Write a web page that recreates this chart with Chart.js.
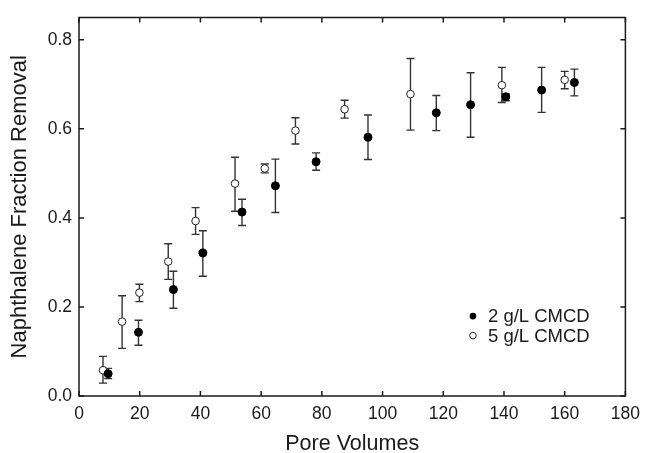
<!DOCTYPE html>
<html>
<head>
<meta charset="utf-8">
<script src="https://cdn.jsdelivr.net/npm/chart.js@4.4.1/dist/chart.umd.min.js"></script>
<style>
    body { margin: 0; background: #fff; }
    canvas { display: block; }
</style>
</head>
<body>
<canvas id="myChart" width="648" height="453"></canvas>
<script>
"use strict";

// 2 g/L CMCD
let pv2 = [9.6, 19.6, 31.1, 40.8, 53.7, 64.7, 78.1, 95.2, 117.7, 129.0, 140.6, 152.4, 163.2];
let fr2 = [0.050, 0.143, 0.239, 0.321, 0.413, 0.472, 0.526, 0.581, 0.636, 0.654, 0.672, 0.687, 0.704];
let err2Lo = [0.039, 0.114, 0.197, 0.269, 0.383, 0.412, 0.507, 0.531, 0.596, 0.581, 0.663, 0.637, 0.674];
let err2Hi = [0.062, 0.170, 0.280, 0.371, 0.442, 0.532, 0.546, 0.631, 0.675, 0.726, 0.679, 0.738, 0.734];

// 5 g/L CMCD
let pv5 = [7.9, 14.2, 19.9, 29.4, 38.4, 51.4, 61.2, 71.3, 87.5, 109.2, 139.3, 160.0];
let fr5 = [0.058, 0.167, 0.232, 0.302, 0.393, 0.477, 0.511, 0.596, 0.644, 0.678, 0.698, 0.710];
let err5Lo = [0.029, 0.107, 0.212, 0.262, 0.363, 0.415, 0.501, 0.566, 0.624, 0.597, 0.659, 0.690];
let err5Hi = [0.089, 0.225, 0.251, 0.342, 0.423, 0.536, 0.521, 0.625, 0.664, 0.758, 0.738, 0.729];

let seriesLabels = ["2 g/L CMCD", "5 g/L CMCD"];
let xTicks = [0, 20, 40, 60, 80, 100, 120, 140, 160, 180];
let yTicks = [0.0, 0.2, 0.4, 0.6, 0.8];

let font = "'Liberation Sans', Arial, Helvetica, sans-serif";
let ink = "#1a1a1a";

function toPoints(xs, ys) {
    let pts = [];
    for (let i = 0; i < xs.length; i++) {
        pts.push({x: xs[i], y: ys[i]});
    }
    return pts;
}

let errorBars = [[err2Lo, err2Hi], [err5Lo, err5Hi]];

// error bars, frame, inward ticks, legend
let extras = {
    id: "extras",
    beforeDatasetsDraw: function (chart) {
        let ctx = chart.ctx;
        let xs = chart.scales.x, ys = chart.scales.y;
        ctx.save();
        ctx.strokeStyle = "#333";
        ctx.lineWidth = 1.4;
        chart.data.datasets.forEach(function (ds, d) {
            let lo = errorBars[d][0], hi = errorBars[d][1];
            ds.data.forEach(function (p, i) {
                let px = xs.getPixelForValue(p.x);
                let y1 = ys.getPixelForValue(lo[i]);
                let y2 = ys.getPixelForValue(hi[i]);
                ctx.beginPath();
                ctx.moveTo(px, y1); ctx.lineTo(px, y2);
                ctx.moveTo(px - 4, y1); ctx.lineTo(px + 4, y1);
                ctx.moveTo(px - 4, y2); ctx.lineTo(px + 4, y2);
                ctx.stroke();
            });
        });
        ctx.restore();
    },
    afterDraw: function (chart) {
        let ctx = chart.ctx;
        let a = chart.chartArea;
        let xs = chart.scales.x, ys = chart.scales.y;
        ctx.save();
        ctx.strokeStyle = ink;
        ctx.lineWidth = 1.5;
        ctx.strokeRect(a.left, a.top, a.right - a.left, a.bottom - a.top);
        ctx.beginPath();
        xTicks.forEach(function (v) {
            let px = xs.getPixelForValue(v);
            ctx.moveTo(px, a.bottom); ctx.lineTo(px, a.bottom - 5);
            ctx.moveTo(px, a.top); ctx.lineTo(px, a.top + 5);
        });
        yTicks.forEach(function (v) {
            let py = ys.getPixelForValue(v);
            ctx.moveTo(a.left, py); ctx.lineTo(a.left + 5, py);
            ctx.moveTo(a.right, py); ctx.lineTo(a.right - 5, py);
        });
        ctx.stroke();

        // legend
        let lx = a.left + (a.right - a.left) * 0.721;
        let ly = a.top + (a.bottom - a.top) * 0.789;
        ctx.font = "18.5px " + font;
        ctx.textBaseline = "middle";
        ctx.fillStyle = ink;
        seriesLabels.forEach(function (label, i) {
            let y = ly + i * 19.5;
            ctx.beginPath();
            ctx.arc(lx, y, 3.3, 0, Math.PI * 2);
            if (i === 0) {
                ctx.fillStyle = "#000";
                ctx.fill();
            } else {
                ctx.lineWidth = 1;
                ctx.fillStyle = "#fff";
                ctx.fill();
                ctx.stroke();
            }
            ctx.fillStyle = ink;
            ctx.fillText(label, lx + 15, y + 1);
        });
        ctx.restore();
    }
};

let myChart = new Chart(document.getElementById("myChart"), {
    type: "scatter",
    data: {
        datasets: [
            {
                label: seriesLabels[0],
                data: toPoints(pv2, fr2),
                pointStyle: "circle",
                pointRadius: 4,
                backgroundColor: "#000",
                borderColor: "#000",
                borderWidth: 1
            },
            {
                label: seriesLabels[1],
                data: toPoints(pv5, fr5),
                pointStyle: "circle",
                pointRadius: 3.8,
                backgroundColor: "#fff",
                borderColor: "#222",
                borderWidth: 1
            }
        ]
    },
    options: {
        responsive: false,
        animation: false,
        layout: {padding: {top: 14, right: 17, left: 0, bottom: 0}},
        plugins: {
            legend: {display: false},
            tooltip: {enabled: false}
        },
        scales: {
            x: {
                type: "linear",
                min: 0,
                max: 180,
                grid: {display: false, drawTicks: false},
                border: {display: false},
                afterFit: function (scale) { scale.height = 57; },
                afterBuildTicks: function (scale) {
                    scale.ticks = xTicks.map(function (v) { return {value: v}; });
                },
                ticks: {
                    padding: 8,
                    color: ink,
                    font: {family: font, size: 17.5},
                    maxRotation: 0
                },
                title: {
                    display: true,
                    text: "Pore Volumes",
                    color: ink,
                    font: {family: font, size: 21.5, lineHeight: 0.8},
                    padding: {top: 0, bottom: 0}
                }
            },
            y: {
                type: "linear",
                min: 0,
                max: 0.85,
                grid: {display: false, drawTicks: false},
                border: {display: false},
                afterFit: function (scale) { scale.width = 79; },
                afterBuildTicks: function (scale) {
                    scale.ticks = yTicks.map(function (v) { return {value: v}; });
                },
                ticks: {
                    padding: 7,
                    color: ink,
                    font: {family: font, size: 17.5},
                    callback: function (v) { return Number(v).toFixed(1); }
                },
                title: {
                    display: true,
                    text: "Naphthalene Fraction Removal",
                    color: ink,
                    font: {family: font, size: 22, lineHeight: 1},
                    padding: {top: 9, bottom: 0}
                }
            }
        }
    },
    plugins: [extras]
});
</script>
</body>
</html>
